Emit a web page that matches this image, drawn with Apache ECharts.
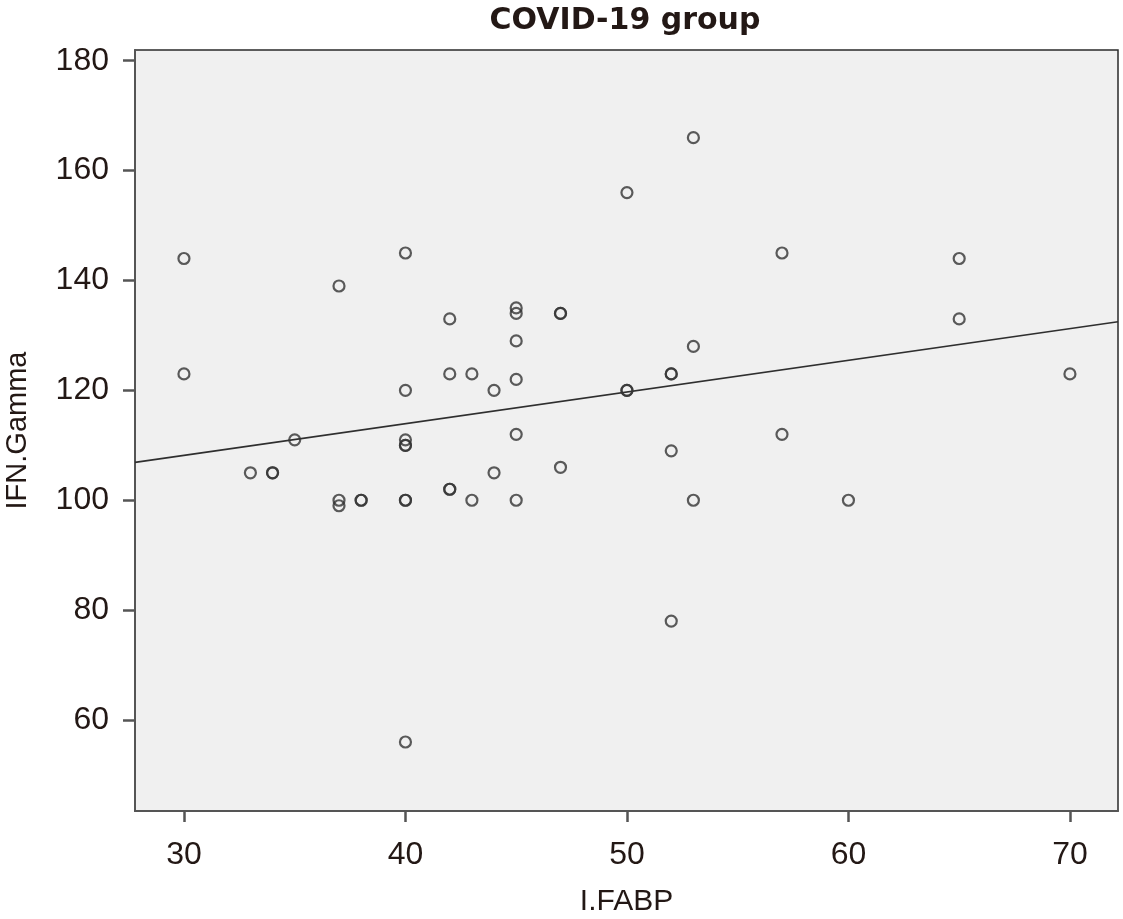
<!DOCTYPE html>
<html>
<head>
<meta charset="utf-8">
<script src="https://cdn.jsdelivr.net/npm/echarts@6/dist/echarts.min.js"></script>
<style>
  html, body { margin: 0; padding: 0; background: #ffffff; }
  #chart { width: 1123px; height: 919px; }
</style>
</head>
<body>
<div id="chart"></div>
<script>
// I-FABP values (x) for each patient
const ifabp = [30, 30, 33, 34, 34, 35, 37, 37, 37, 38, 38,
  40, 40, 40, 40, 40, 40, 40, 40,
  42, 42, 42, 42, 43, 43, 44, 44,
  45, 45, 45, 45, 45, 45, 47, 47, 47,
  50, 50, 50, 52, 52, 52, 52, 53, 53, 53,
  57, 57, 60, 65, 65, 70];
// IFN-Gamma values (y) for each patient
const ifnGamma = [144, 123, 105, 105, 105, 111, 139, 100, 99, 100, 100,
  145, 120, 111, 110, 110, 100, 100, 56,
  133, 123, 102, 102, 123, 100, 120, 105,
  135, 134, 129, 122, 112, 100, 134, 134, 106,
  156, 120, 120, 123, 123, 109, 78, 166, 128, 100,
  145, 112, 100, 144, 133, 123];
// fitted regression line end points
const fitX = [27.79, 72.17];
const fitY = [106.9, 132.5];
const xTicks = [30, 40, 50, 60, 70];
const yTicks = [60, 80, 100, 120, 140, 160, 180];
const xRange = [27.79, 72.17];
const yRange = [43.44, 181.95];

const points = ifabp.map((x, i) => [x, ifnGamma[i]]);
const fitLine = fitX.map((x, i) => [x, fitY[i]]);

const textColor = '#231815';
const font = 'Liberation Sans';

const chart = echarts.init(document.getElementById('chart'), null, { renderer: 'canvas' });
chart.setOption({
  animation: false,
  backgroundColor: '#ffffff',
  title: {
    text: 'COVID-19 group',
    left: 620,
    textAlign: 'center',
    top: 1,
    textStyle: { fontFamily: 'DejaVu Sans', fontWeight: 'bold', fontSize: 30, color: textColor }
  },
  grid: {
    left: 135, right: 5, top: 50, bottom: 108,
    outerBoundsMode: 'none',
    containLabel: false,
    show: true,
    backgroundColor: '#f0f0f0',
    borderColor: '#2a2a2a',
    borderWidth: 1.5
  },
  xAxis: {
    type: 'value',
    min: xRange[0], max: xRange[1],
    name: 'I.FABP',
    nameLocation: 'middle',
    nameGap: 76,
    nameTextStyle: { fontFamily: font, fontSize: 30, color: textColor },
    splitLine: { show: false },
    axisLine: { show: true, lineStyle: { color: '#555', width: 2 } },
    axisTick: { show: true, length: 11, lineStyle: { color: '#555', width: 2.5 }, customValues: xTicks },
    axisLabel: { fontFamily: font, fontSize: 32, color: textColor, margin: 28, customValues: xTicks }
  },
  yAxis: {
    type: 'value',
    min: yRange[0], max: yRange[1],
    name: 'IFN.Gamma',
    nameLocation: 'middle',
    nameGap: 103,
    nameRotate: 90,
    nameTextStyle: { fontFamily: font, fontSize: 29, color: textColor },
    splitLine: { show: false },
    axisLine: { show: true, lineStyle: { color: '#555', width: 2 } },
    axisTick: { show: true, length: 12, lineStyle: { color: '#555', width: 2.5 }, customValues: yTicks },
    axisLabel: { fontFamily: font, fontSize: 32, color: textColor, margin: 26, customValues: yTicks }
  },
  series: [
    {
      type: 'line',
      data: fitLine,
      symbol: 'none',
      lineStyle: { color: '#2f2f2f', width: 1.6 },
      z: 2
    },
    {
      type: 'scatter',
      data: points,
      symbol: 'circle',
      symbolSize: 11,
      itemStyle: { color: 'rgba(0,0,0,0)', borderColor: '#333333', borderWidth: 2.2 },
      z: 3
    }
  ]
});
</script>
</body>
</html>
